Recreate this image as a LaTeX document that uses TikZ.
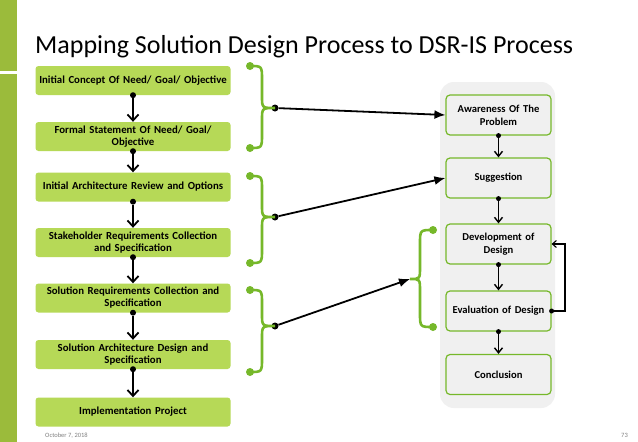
\documentclass[tikz,border=0pt]{standalone}
\usepackage{fontspec}
\setmainfont{Carlito}
\usetikzlibrary{arrows.meta}
\definecolor{barg}{HTML}{9BBB3B}
\definecolor{boxg}{HTML}{B6D957}
\definecolor{lineg}{HTML}{76B82A}
\definecolor{panel}{HTML}{F0F0F0}
\tikzset{
  lbox/.style={fill=boxg, rounded corners=3pt, minimum width=195pt, minimum height=29pt,
    text width=195pt, align=center, font=\fontsize{10.8}{12}\selectfont\bfseries, inner sep=0pt},
  rbox/.style={draw=lineg, line width=1.2pt, fill=panel, rounded corners=4pt, minimum width=105pt,
    minimum height=40pt, text width=104pt, align=center, font=\fontsize{10.6}{13}\selectfont\bfseries, inner sep=0pt},
  flow/.style={line width=1.8pt, -{Straight Barb[length=6pt,width=11pt]}},
  dot/.style={circle, fill=black, inner sep=0pt, minimum size=6pt},
  gdot/.style={circle, fill=lineg, inner sep=0pt, minimum size=8pt},
  brace/.style={draw=lineg, line width=2.6pt},
  link/.style={line width=1.8pt, -{Latex[length=11pt,width=9pt]}},
}
\begin{document}
\begin{tikzpicture}[x=1pt,y=-1pt]
\useasboundingbox (0,0) rectangle (638,442);
\fill[white] (0,0) rectangle (638,442);
\fill[barg] (0,0) rectangle (17,71);
\fill[barg] (0,74) rectangle (17,442);
\node[anchor=base west, font=\fontsize{26}{30}\selectfont, inner sep=0pt] (title) at (35,53) {Mapping Solution Design Process to DSR-IS Process};

% left column
\node[lbox] (l1) at (133,80.5) {Initial Concept Of Need/ Goal/ Objective};
\node[lbox] (l2) at (133,136.5) {Formal Statement Of Need/ Goal/\\ Objective};
\node[lbox] (l3) at (133,187) {Initial Architecture Review and Options};
\node[lbox] (l4) at (133,242.5) {Stakeholder Requirements Collection\\ and Specification};
\node[lbox] (l5) at (133,298) {Solution Requirements Collection and\\ Specification};
\node[lbox] (l6) at (133,354.5) {Solution Architecture Design and\\ Specification};
\node[lbox] (l7) at (133,412) {Implementation Project};
\foreach \a/\b in {l1/l2,l2/l3,l3/l4,l4/l5,l5/l6,l6/l7}{
  \node[dot] (d\a) at (\a.south) {};
  \draw[flow] (d\a) -- (\b.north);
}

% right panel
\fill[panel, rounded corners=14pt] (440,82) rectangle (555,408);
\node[rbox] (r1) at (498.5,115) {Awareness Of The\\ Problem};
\node[rbox] (r2) at (498.5,178) {Suggestion};
\node[rbox] (r3) at (498.5,244) {Development of\\ Design};
\node[rbox] (r4) at (498.5,311) {Evaluation of Design};
\node[rbox] (r5) at (498.5,374.5) {Conclusion};
\foreach \a/\b in {r1/r2,r2/r3,r3/r4,r4/r5}{
  \node[dot, minimum size=5pt] (d\a) at (\a.south) {};
  \draw[line width=1.4pt, -{Straight Barb[length=5pt,width=8pt]}] (d\a) -- (\b.north);
}
\node[dot, minimum size=5pt] (fb) at (r4.east) {};
\coordinate (fbc) at (565,311);
\coordinate (fbd) at (565,244);
\draw[line width=1.1pt, -{Straight Barb[length=4pt,width=7pt]}] (fb) -- (fbc) -- (fbd) -- (r3.east);

% left braces
\foreach \i/\t/\m/\b in {1/66/108/148, 2/176/217/263, 3/290/326/372}{
  \node[gdot] (bt\i) at (250,\t) {};
  \node[gdot] (bb\i) at (250,\b) {};
  \node[dot, minimum size=7pt] (bm\i) at (275,\m) {};
  \draw[brace] (bt\i.center) .. controls (262,\t) .. (262,\t+14) -- (262,\m-12)
    .. controls (262,\m) .. (bm\i.center) .. controls (262,\m) .. (262,\m+12)
    -- (262,\b-14) .. controls (262,\b) .. (bb\i.center);
}
% right brace
\node[gdot] (rt) at (433,230) {};
\node[gdot] (rb) at (433,327) {};
\coordinate (rm) at (410,279);
\draw[brace] (rt.center) .. controls (420,230) .. (420,244) -- (420,267)
  .. controls (420,279) .. (rm) .. controls (420,279) .. (420,291)
  -- (420,313) .. controls (420,327) .. (rb.center);

\draw[link] (bm1) -- (r1.west);
\draw[link] (bm2) -- (r2.west);
\draw[link] (bm3) -- (rm);

\node[anchor=base west, font=\fontsize{6.5}{8}\selectfont, text=gray, inner sep=0pt] (date) at (45,437) {October 7, 2018};
\node[anchor=base east, font=\fontsize{6.5}{8}\selectfont, text=gray, inner sep=0pt] (page) at (628,437) {73};
\end{tikzpicture}
\end{document}
